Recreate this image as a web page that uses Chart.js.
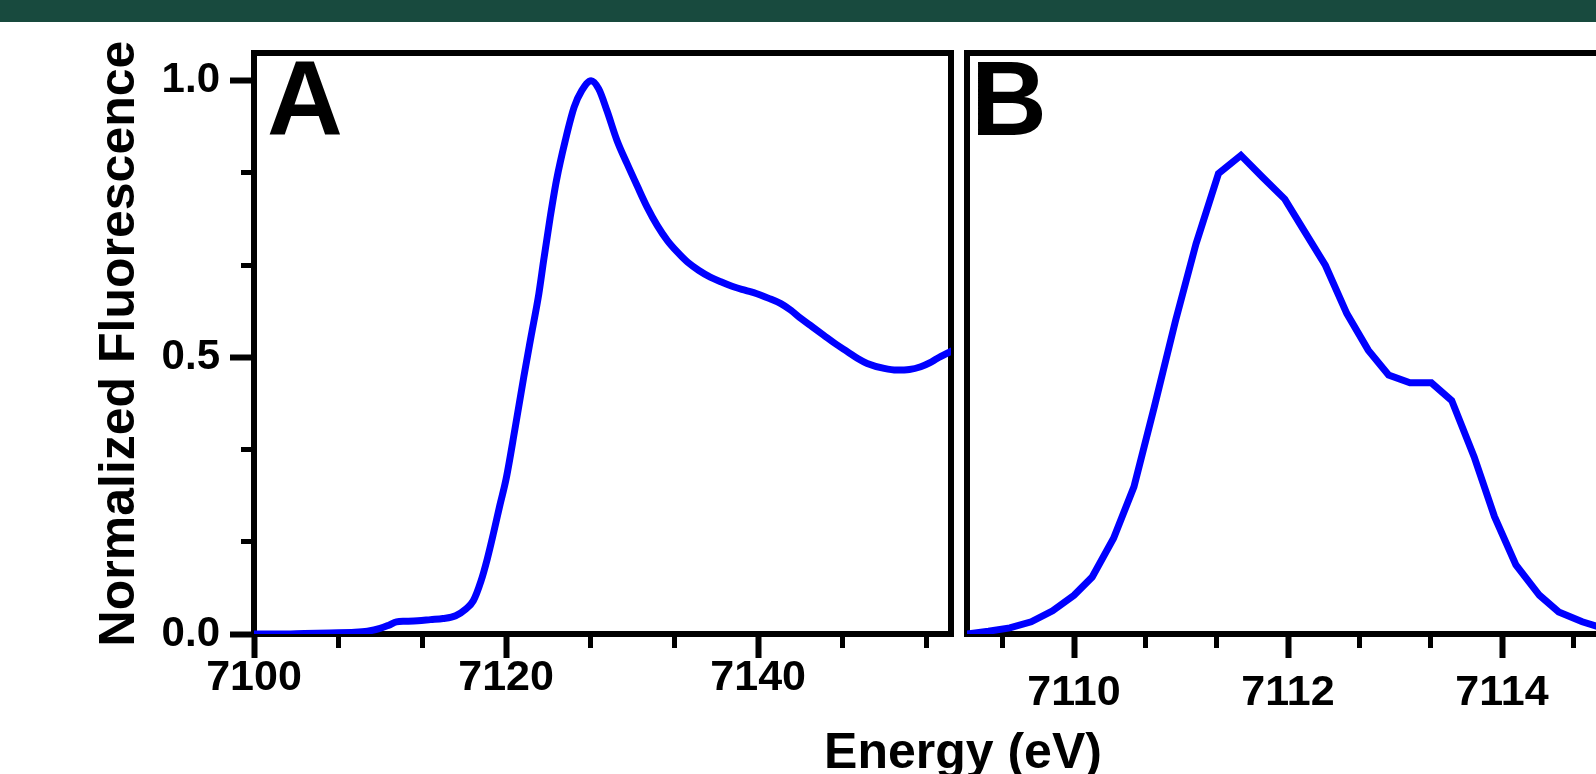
<!DOCTYPE html>
<html><head><meta charset="utf-8">
<script src="https://cdn.jsdelivr.net/npm/chart.js@4/dist/chart.umd.min.js"></script>
<style>
html,body{margin:0;padding:0;width:1596px;height:774px;overflow:hidden;background:#fff;}
#bar{position:absolute;left:0;top:0;width:1596px;height:22px;background:#184a3e;}
#ca{position:absolute;left:0;top:0;}
#cb{position:absolute;left:955px;top:0;}
#xt{position:absolute;left:663px;width:600px;top:726px;text-align:center;font:bold 50px/50px "Liberation Sans",Arial,sans-serif;color:#000;white-space:nowrap;}
</style></head>
<body>
<canvas id="ca" width="960" height="774"></canvas>
<canvas id="cb" width="670" height="774"></canvas>
<div id="bar"></div>
<div id="xt">Energy (eV)</div>
<script>
// ---- Panel A: full XANES spectrum ----
const energyA = [7100.0,7102.0,7104.0,7106.0,7108.0,7109.0,7110.0,7110.7,7111.3,7112.0,7113.0,7114.0,7115.0,7116.0,7116.8,7117.4,7118.0,7118.5,7119.0,7119.5,7120.0,7120.7,7121.4,7122.0,7122.6,7123.0,7123.5,7124.0,7124.7,7125.4,7126.0,7126.75,7127.35,7128.0,7128.8,7129.6,7130.4,7131.2,7132.0,7132.8,7133.6,7134.4,7135.3,7136.2,7137.1,7138.1,7139.0,7139.9,7140.8,7141.8,7142.6,7143.4,7144.3,7145.2,7146.1,7147.1,7147.9,7148.65,7150.0,7151.0,7152.0,7152.9,7153.6,7154.2,7155.3];
const fluorA = [0.000,0.000,0.001,0.002,0.003,0.005,0.010,0.016,0.022,0.023,0.024,0.026,0.028,0.033,0.045,0.060,0.095,0.135,0.182,0.232,0.280,0.370,0.464,0.540,0.615,0.678,0.753,0.820,0.892,0.952,0.982,1.000,0.985,0.946,0.892,0.850,0.810,0.771,0.738,0.711,0.690,0.672,0.657,0.645,0.636,0.627,0.621,0.615,0.607,0.597,0.585,0.570,0.555,0.540,0.525,0.510,0.498,0.489,0.480,0.477,0.478,0.483,0.490,0.498,0.511];

// ---- Panel B: pre-edge region ----
const energyB = [7109.0,7109.2,7109.4,7109.6,7109.8,7110.0,7110.17,7110.37,7110.56,7110.75,7110.95,7111.14,7111.35,7111.56,7111.76,7111.97,7112.15,7112.35,7112.55,7112.75,7112.94,7113.14,7113.34,7113.53,7113.74,7113.93,7114.13,7114.35,7114.53,7114.75,7114.95];
const fluorB = [0.000,0.005,0.011,0.022,0.042,0.070,0.103,0.173,0.266,0.410,0.567,0.705,0.832,0.865,0.826,0.786,0.729,0.666,0.579,0.513,0.468,0.454,0.454,0.422,0.320,0.212,0.125,0.070,0.040,0.022,0.010];

// ---- ticks ----
const yTickValues = [0, 1/6, 1/3, 0.5, 2/3, 5/6, 1.0];
const yTickLabels = ['0.0', '', '', '0.5', '', '', '1.0'];
const xTickValuesA = [7100, 7106.667, 7113.333, 7120, 7126.667, 7133.333, 7140, 7146.667, 7153.333];
const xTickLabelsA = ['7100', '', '', '7120', '', '', '7140', '', ''];
const xTickValuesB = [7109.333, 7110, 7110.667, 7111.333, 7112, 7112.667, 7113.333, 7114, 7114.667];
const xTickLabelsB = ['', '7110', '', '', '7112', '', '', '7114', ''];
const panelLetters = ['A', 'B'];
const yTitle = 'Normalized Fluorescence';

const FAM = '"Liberation Sans", Arial, sans-serif';

const framePlugin = {
  id: 'frame',
  beforeDatasetsDraw(chart) {
    const {left, top, right, bottom} = chart.chartArea;
    const ctx = chart.ctx;
    ctx.save();
    ctx.strokeStyle = '#000';
    ctx.lineWidth = 6;
    ctx.strokeRect(left, top, right - left, bottom - top);
    ctx.restore();
  }
};
const letterPlugin = {
  id: 'panelLetter',
  afterDraw(chart, args, opts) {
    const ctx = chart.ctx;
    ctx.save();
    ctx.font = 'bold 105px ' + FAM;
    ctx.fillStyle = '#000';
    ctx.textBaseline = 'alphabetic';
    ctx.textAlign = 'left';
    ctx.fillText(opts.text, chart.chartArea.left + opts.dx, chart.chartArea.top + 82);
    ctx.restore();
  }
};

// minor ticks are shortened with a dash pattern; direction differs per axis
function gridOpts(labels, minorDash) {
  return {
    drawOnChartArea: false, drawTicks: true, tickLength: 24, tickColor: '#000',
    tickWidth: ctx => (labels[ctx.index] ? 6 : 5),
    tickBorderDash: ctx => (labels[ctx.index] ? [] : minorDash)
  };
}
function xScale(min, max, values, labels, pad) {
  return {
    type: 'linear', min: min, max: max, bounds: 'data',
    afterBuildTicks: s => { s.ticks = values.map(v => ({value: v})); },
    afterFit: s => { s.height = 140; },
    border: {display: false},
    grid: gridOpts(labels, [14, 100]),
    ticks: {autoSkip: false, maxRotation: 0, minRotation: 0, padding: pad, color: '#000',
      font: {family: FAM, size: 43, weight: 'bold', lineHeight: 1},
      callback: (v, i) => labels[i]}
  };
}
function series(xs, ys) { return xs.map((x, i) => ({x: x, y: ys[i]})); }

new Chart(document.getElementById('ca'), {
  type: 'line',
  data: {datasets: [{data: series(energyA, fluorA), borderColor: '#0000ff', borderWidth: 7,
    pointRadius: 0, cubicInterpolationMode: 'monotone', borderJoinStyle: 'round', borderCapStyle: 'round'}]},
  options: {
    responsive: false, animation: false, devicePixelRatio: 1,
    layout: {padding: {top: 53, right: 9, left: 0, bottom: 0}},
    plugins: {legend: {display: false}, tooltip: {enabled: false}, panelLetter: {text: panelLetters[0], dx: 13}},
    scales: {
      x: xScale(7100, 7155.3, xTickValuesA, xTickLabelsA, -1),
      y: {
        type: 'linear', min: 0, max: 1.05, bounds: 'data',
        afterBuildTicks: s => { s.ticks = yTickValues.map(v => ({value: v})); },
        afterFit: s => { s.width = 254; },
        border: {display: false},
        grid: gridOpts(yTickLabels, [0, 11, 13, 100]),
        ticks: {autoSkip: false, padding: 10, color: '#000',
          font: {family: FAM, size: 42, weight: 'bold'},
          callback: (v, i) => yTickLabels[i]},
        title: {display: true, text: yTitle, color: '#000',
          font: {family: FAM, size: 50, weight: 'bold', lineHeight: 1.2},
          padding: {top: 90, bottom: 0}}
      }
    }
  },
  plugins: [framePlugin, letterPlugin]
});

new Chart(document.getElementById('cb'), {
  type: 'line',
  data: {datasets: [{data: series(energyB, fluorB), borderColor: '#0000ff', borderWidth: 7,
    pointRadius: 0, tension: 0, borderJoinStyle: 'miter', borderCapStyle: 'round'}]},
  options: {
    responsive: false, animation: false, devicePixelRatio: 1,
    layout: {padding: {top: 53, right: 16, left: 12, bottom: 0}},
    plugins: {legend: {display: false}, tooltip: {enabled: false}, panelLetter: {text: panelLetters[1], dx: 4}},
    scales: {
      x: xScale(7109.0, 7115.0, xTickValuesB, xTickLabelsB, 14),
      y: {type: 'linear', min: 0, max: 1.05, display: false}
    }
  },
  plugins: [framePlugin, letterPlugin]
});
</script>
</body></html>
